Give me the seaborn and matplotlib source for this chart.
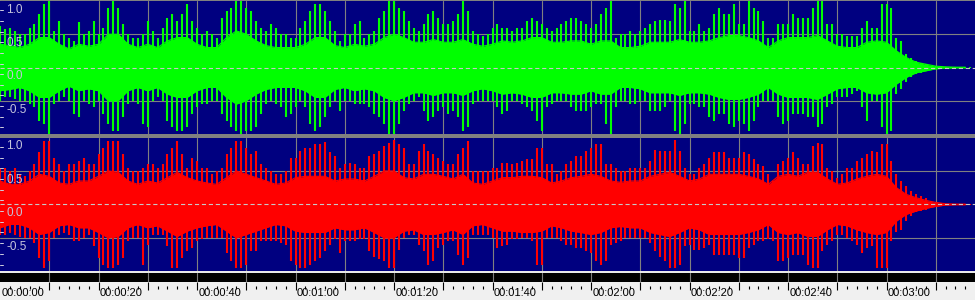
import numpy as np
import pandas as pd
import matplotlib
matplotlib.use("Agg")
import matplotlib.pyplot as plt
import matplotlib.transforms as mtransforms
from matplotlib.patches import Rectangle
import seaborn as sns

# ---------------- data ----------------
# peak amplitudes, one value per second (t = 0 .. 197 s)
green_peak_hi = [
    .62, .58, .6, .55, .5, .5, .6, .65, .8, .95,
    1.0, .55, .7, .5, .45, .4, .68, .5, .55, .7,
    .5, .6, .9, 1.0, .9, .65, .5, .45, .45, .5,
    .7, .55, .45, .6, .75, .8, .7, .8, .95, .7,
    .6, .5, .55, .5, .45, .75, .85, .9, 1.0, 1.0,
    .9, .85, .7, .6, .55, .65, .6, .5, .5, .45,
    .45, .6, .7, .85, .95, .95, .85, .7, .55, .4,
    .5, .5, .65, .7, .45, .5, .55, .75, .85, 1.0,
    1.0, .9, .85, .7, .6, .55, .65, .8, .85, .75,
    .65, .65, .7, .8, 1.0, .85, .55, .5, .48, .5,
    .6, .65, .6, .6, .55, .6, .6, .7, .75, .7,
    .65, .6, .55, .6, .65, .7, .75, .75, .7, .65,
    .6, .65, .8, .9, 1.0, .45, .5, .5, .55, .5,
    .55, .6, .65, .7, .72, .72, .7, .95, .9, 1.0,
    .55, .55, .65, .55, .6, .8, .9, .8, .8, .95,
    .65, .65, 1.0, .9, .85, .7, .45, .45, .65, .65,
    .65, .8, .75, .75, .75, .9, 1.0, 1.0, .65, .65,
    .5, .5, .48, .48, .48, .6, .7, .6, .6, .95,
    .95, .9, .45, .4, .2, .15, .1, .07, .06, .03,
    .02, .01, .005, .005, .005, .005, .005, .005,
]
green_peak_lo = [
    .5, .45, .45, .48, .5, .5, .55, .6, .8, .85,
    1.0, .55, .5, .45, .5, .7, .75, .5, .55, .6,
    .5, .7, .85, .95, .95, .75, .55, .5, .55, .85,
    .9, .5, .45, .5, .8, .9, .95, .95, .9, .7,
    .6, .55, .55, .5, .5, .7, .8, .9, .95, 1.0,
    .95, .95, .9, .7, .55, .5, .55, .6, .75, .7,
    .6, .5, .6, .85, .95, .9, .75, .6, .5, .65,
    .5, .5, .55, .55, .55, .6, .7, .75, .85, 1.0,
    1.0, .85, .65, .55, .5, .45, .65, .8, .75, .65,
    .6, .7, .65, .75, .95, .9, .55, .5, .5, .5,
    .5, .6, .7, .65, .5, .5, .55, .6, .65, .8,
    .95, .6, .55, .5, .5, .5, .6, .65, .65, .65,
    .6, .55, .55, .85, 1.0, .6, .5, .5, .55, .55,
    .5, .5, .65, .65, .65, .6, .5, .95, 1.0, .85,
    .55, .55, .6, .6, .75, .8, .7, .7, .85, .9,
    .8, .85, .95, .8, .6, .5, .5, .5, .75, .85,
    .8, .7, .7, .7, .75, .75, .9, .85, .6, .55,
    .45, .45, .45, .4, .35, .6, .8, .5, .5, .9,
    1.0, .95, .4, .32, .22, .15, .1, .08, .06, .03,
    .02, .01, .005, .005, .005, .005, .005, .005,
]
red_peak_hi = [
    .55, .55, .5, .55, .45, .42, .5, .6, .78, .95,
    .95, .7, .6, .5, .6, .6, .65, .7, .6, .6,
    .75, .85, .95, .95, .95, .75, .55, .5, .5, .55,
    .6, .6, .55, .6, .75, .85, .95, .75, .55, .7,
    .65, .55, .55, .45, .5, .55, .75, .85, .95, .95,
    .85, .75, .8, .6, .55, .5, .45, .45, .5, .7,
    .7, .8, .85, .85, .9, .9, .93, .78, .72, .55,
    .6, .62, .6, .55, .55, .72, .75, .8, .88, .92,
    .97, .9, .85, .6, .6, .8, .9, .8, .75, .7,
    .65, .6, .6, .75, .85, .95, .5, .5, .5, .5,
    .55, .55, .62, .62, .6, .62, .65, .68, .68, .85,
    .85, .6, .6, .45, .5, .6, .65, .72, .72, .8,
    .85, .9, .9, .6, .6, .55, .5, .5, .55, .55,
    .55, .55, .65, .82, .8, .8, .8, .97, .8, .55,
    .45, .45, .55, .6, .7, .78, .78, .78, .7, .7,
    .7, .78, .75, .68, .6, .58, .45, .35, .6, .65,
    .7, .78, .7, .6, .6, .88, .92, .9, .55, .5,
    .4, .45, .55, .55, .65, .7, .75, .8, .78, .9,
    .9, .65, .45, .35, .28, .2, .15, .12, .1, .05,
    .03, .02, .005, .005, .005, .005, .005, .005,
]
red_peak_lo = [
    .45, .45, .43, .45, .48, .5, .5, .58, .8, .95,
    .85, .5, .45, .43, .45, .55, .55, .5, .45, .62,
    .8, .9, .95, .95, .9, .8, .55, .5, .5, .9,
    .6, .45, .45, .45, .62, .95, .95, .8, .7, .65,
    .55, .52, .5, .5, .5, .5, .72, .85, .95, .95,
    .9, .7, .7, .55, .55, .55, .55, .58, .6, .85,
    .9, .95, .95, .9, .85, .8, .7, .6, .52, .72,
    .55, .55, .55, .52, .52, .7, .78, .82, .85, .95,
    .95, .68, .5, .45, .45, .6, .7, .9, .85, .65,
    .6, .55, .55, .75, .9, .8, .45, .45, .45, .45,
    .5, .65, .62, .6, .52, .52, .5, .5, .55, .9,
    .9, .5, .5, .5, .55, .6, .6, .65, .65, .7,
    .72, .85, .9, .85, .6, .58, .55, .5, .5, .5,
    .5, .5, .58, .7, .78, .85, .95, .95, .9, .62,
    .6, .68, .68, .65, .6, .75, .75, .75, .75, .75,
    .8, .8, .65, .6, .55, .55, .52, .55, .85, .85,
    .8, .75, .75, .75, .9, .95, .95, .7, .6, .55,
    .45, .45, .5, .55, .6, .72, .65, .62, .95, .95,
    .95, .55, .42, .38, .25, .18, .12, .1, .08, .04,
    .03, .02, .005, .005, .005, .005, .005, .005,
]
# dense "body" amplitude, one value every 2 s (t = 0 .. 196 s)
green_body = [
    .35, .33, .3, .35, .45, .45, .35, .28, .35, .32,
    .35, .5, .5, .35, .3, .35, .3, .4, .45, .45,
    .35, .3, .3, .45, .55, .5, .4, .33, .3, .3,
    .3, .35, .45, .45, .33, .3, .35, .32, .35, .45,
    .5, .45, .38, .38, .42, .38, .38, .42, .35, .32,
    .35, .4, .38, .4, .45, .45, .38, .38, .4, .4,
    .35, .4, .4, .3, .3, .32, .38, .38, .38, .42,
    .38, .38, .4, .45, .48, .48, .45, .4, .3, .4,
    .45, .45, .45, .48, .4, .32, .3, .3, .38, .4,
    .38, .25, .15, .08, .05, .02, .01, .005, .005,
]
red_body = [
    .35, .3, .3, .35, .45, .42, .32, .3, .35, .35,
    .42, .5, .48, .35, .3, .35, .32, .4, .48, .4,
    .35, .32, .3, .4, .5, .45, .4, .35, .3, .32,
    .4, .42, .42, .42, .35, .38, .38, .35, .42, .5,
    .5, .4, .38, .45, .45, .42, .38, .45, .32, .3,
    .35, .4, .4, .42, .42, .4, .32, .35, .4, .42,
    .45, .42, .35, .33, .35, .35, .42, .45, .48, .42,
    .35, .38, .45, .45, .45, .45, .42, .38, .3, .42,
    .45, .42, .48, .48, .38, .3, .32, .38, .42, .45,
    .42, .25, .15, .1, .06, .03, .01, .005, .005,
]
peak_seconds = list(range(0, 198))
body_seconds = list(range(0, 198, 2))
time_labels = ["00:00:00", "00:00:20", "00:00:40", "00:01:00", "00:01:20",
               "00:01:40", "00:02:00", "00:02:20", "00:02:40", "00:03:00"]
label_seconds = [0, 20, 40, 60, 80, 100, 120, 140, 160, 180]
y_labels = ["1.0", "0.5", "0.0", "-0.5"]
y_label_values = [1.0, 0.5, 0.0, -0.5]

# ---------------- style ----------------
sns.set_style("dark")
plt.rcParams["font.family"] = ["Liberation Sans", "DejaVu Sans"]
plt.rcParams["lines.scale_dashes"] = False

W, H = 975, 300
DUR = 975 / 4.925
NAVY = "#000080"
GRID = "#808080"

fig = plt.figure(figsize=(W / 100, H / 100), dpi=100, facecolor="#f0f0f0")

def fr(y0, y1):
    return [0, 1 - y1 / H, 1, (y1 - y0) / H]

# background strips (behind the axes)
fig.patches.append(Rectangle((0, 1 - 138 / H), 1, 138 / H, transform=fig.transFigure,
                             color=GRID, zorder=-10))
fig.patches.append(Rectangle((0, 1 - 273 / H), 1, 1.8 / H, transform=fig.transFigure,
                             color="#e8e8e8", zorder=-10))

ax_top = fig.add_axes(fr(1, 134))
ax_bot = fig.add_axes(fr(137.5, 271.3))
ax_bar = fig.add_axes(fr(273, 282.3))
ax_time = fig.add_axes(fr(282.3, 300))

df_g = pd.DataFrame({"t": body_seconds, "b": green_body})
df_r = pd.DataFrame({"t": body_seconds, "b": red_body})


def draw_channel(ax, hi, lo, df_body, color):
    ax.set_facecolor(NAVY)
    ax.set_xlim(0, DUR)
    ax.set_ylim(-1, 1)
    for g in range(10, 200, 10):
        ax.axvline(g, color=GRID, lw=0.8, zorder=0.5)
    for yv in (0.5, -0.5):
        ax.axhline(yv, color=GRID, lw=0.8, zorder=0.5)
    ax.fill_between(df_body["t"], -df_body["b"], df_body["b"], color=color, lw=0, zorder=2)
    sns.lineplot(data=df_body, x="t", y="b", ax=ax, color=color, lw=0.8, zorder=2)
    sns.lineplot(x=df_body["t"], y=-df_body["b"], ax=ax, color=color, lw=0.8, zorder=2)
    ax.vlines(peak_seconds, [-v for v in lo], hi, colors=color, lw=1.5, zorder=2)
    ax.axhline(0, color="#c8c8c8", lw=0.8, dashes=(3.0, 2.0), zorder=3)
    off = mtransforms.offset_copy(ax.get_yaxis_transform(), fig=fig, x=0, y=-2.0, units="points")
    for lab, v in zip(y_labels, y_label_values):
        ax.text(6.5 / W, v, lab, transform=off, ha="left", va="top",
                color="#c4c4dc", fontsize=8.5, zorder=4)
    for yt in np.arange(-0.9, 1.0, 0.16):
        ax.plot([0, 2.5 / W], [yt, yt], transform=ax.get_yaxis_transform(),
                color="#d0d0e0", lw=0.7, zorder=4)
    ax.set_xticks([])
    ax.set_yticks([])
    ax.set_xlabel("")
    ax.set_ylabel("")
    for s in ax.spines.values():
        s.set_visible(False)


draw_channel(ax_top, green_peak_hi, green_peak_lo, df_g, "#00ff00")
draw_channel(ax_bot, red_peak_hi, red_peak_lo, df_r, "#ff0000")

# black time bar
ax_bar.set_facecolor("black")
ax_bar.set_xlim(0, DUR)
ax_bar.set_ylim(0, 1)
for g in range(10, 200, 10):
    ax_bar.axvline(g, color=GRID, lw=0.8)
ax_bar.set_xticks([])
ax_bar.set_yticks([])
for s in ax_bar.spines.values():
    s.set_visible(False)

# time ruler
ax_time.set_facecolor("#f0f0f0")
ax_time.set_xlim(0, DUR)
ax_time.set_ylim(0, 1)
major = list(range(10, 200, 10))
minor = [m for m in range(2, 198, 2) if m % 10 != 0]
ax_time.vlines(major, 1 - 7.5 / 17.7, 1, colors="black", lw=0.8)
ax_time.vlines(minor, 1 - 6.5 / 17.7, 1 - 4 / 17.7, colors="black", lw=0.8)
off_t = mtransforms.offset_copy(ax_time.transData, fig=fig, x=1.0, y=0, units="points")
for s_, lab in zip(label_seconds, time_labels):
    ax_time.text(s_, 0.1, lab, transform=off_t, ha="left", va="bottom",
                 fontsize=8, color="black")
ax_time.set_xticks([])
ax_time.set_yticks([])
for s in ax_time.spines.values():
    s.set_visible(False)

fig.savefig("out.png", dpi=100, facecolor=fig.get_facecolor())
